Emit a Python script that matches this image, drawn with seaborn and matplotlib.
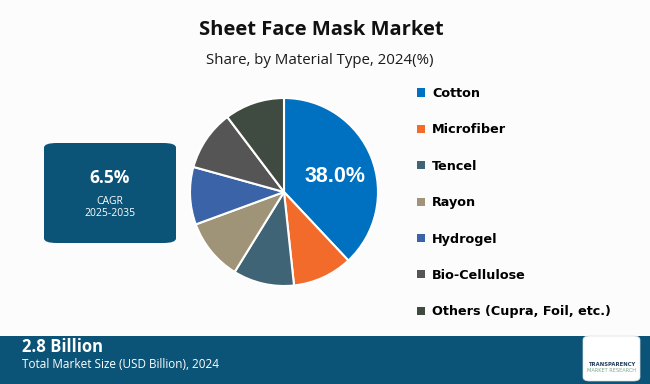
import matplotlib
matplotlib.use("Agg")
import matplotlib.pyplot as plt
import seaborn as sns
from matplotlib.patches import FancyBboxPatch, Rectangle, Patch, FancyArrowPatch, Arc
from matplotlib.font_manager import FontProperties

# data
materials = ["Cotton", "Microfiber", "Tencel", "Rayon", "Hydrogel",
             "Bio-Cellulose", "Others (Cupra, Foil, etc.)"]
shares = [38.0, 10.3, 10.5, 10.6, 9.9, 10.4, 10.3]
colors = ["#0070c0", "#f26b2b", "#3f6475", "#a09478", "#3a63a8",
          "#555555", "#3f4a40"]

cagr = "6.5%"
cagr_period = "2025-2035"
market_size = "2.8 Billion"
market_label = "Total Market Size (USD Billion), 2024"

W, H = 650, 384
BAND = "#0b5477"

sns.set_theme(style="white")
sns.set_palette(colors)
plt.rcParams["font.family"] = ["Open Sans", "DejaVu Sans"]
plt.rcParams["text.color"] = "#111111"


def fx(px):
    return px / W


def fy(py):
    return 1 - py / H


fig = plt.figure(figsize=(W / 100, H / 100), dpi=100)
fig.patch.set_facecolor("#fcfcfc")

# pie
ax = fig.add_axes([fx(190), 98 / H, 188 / W, 188 / H])
wedges, texts, autotexts = ax.pie(
    shares, colors=colors, startangle=90, counterclock=False,
    autopct=lambda p: f"{p:.1f}%" if p > 30 else "",
    pctdistance=0.58,
    wedgeprops=dict(edgecolor="white", linewidth=1.5),
)
for t in autotexts:
    x, y = t.get_position()
    t.set_position((x, y - 0.05))
    t.set_color("white")
    t.set_fontsize(15.5)
    t.set_fontweight("bold")
    t.set_family(["Liberation Sans", "DejaVu Sans"])
ax.set_xlim(-1, 1)
ax.set_ylim(-1, 1)

# legend
handles = [Patch(facecolor=c, edgecolor="none") for c in colors]
leg = ax.legend(handles, materials, loc="upper left",
                bbox_to_anchor=(fx(417), fy(87)), bbox_transform=fig.transFigure,
                frameon=False, borderpad=0, borderaxespad=0,
                handlelength=0.6, handleheight=0.6, handletextpad=0.6,
                labelspacing=1.83,
                prop=FontProperties(family="DejaVu Sans", weight="bold", size=9.2))
for t in leg.get_texts():
    t.set_color("#000000")

# titles
fig.text(fx(321), fy(30), "Sheet Face Mask Market", ha="center", va="center",
         fontsize=14.5, fontweight="bold", color="#111111")
fig.text(fx(320), fy(61), "Share, by Material Type, 2024(%)", ha="center",
         va="center", fontsize=10.8, color="#1a1a1a")

# CAGR box
fig.patches.append(FancyBboxPatch(
    (fx(44), fy(243)), fx(132), 100 / H,
    boxstyle="round,pad=0,rounding_size=0.02", transform=fig.transFigure,
    facecolor=BAND, edgecolor="none", mutation_aspect=H / W))
fig.text(fx(110), fy(178), cagr, ha="center", va="center", fontsize=12.5,
         fontweight="bold", color="white")
fig.text(fx(110), fy(201), "CAGR", ha="center", va="center", fontsize=7.5,
         color="white")
fig.text(fx(110), fy(213), cagr_period, ha="center", va="center",
         fontsize=7.5, color="white")

# bottom band
fig.patches.append(Rectangle((0, 0), 1, 48 / H, transform=fig.transFigure,
                             facecolor=BAND, edgecolor="none"))
fig.text(fx(22), fy(347), market_size, ha="left", va="center", fontsize=12,
         fontweight="bold", color="white")
fig.text(fx(22), fy(364), market_label, ha="left", va="center", fontsize=8.5,
         color="white")

# logo
fig.patches.append(FancyBboxPatch(
    (fx(583), fy(381)), fx(57), 45 / H,
    boxstyle="round,pad=0,rounding_size=0.01", transform=fig.transFigure,
    facecolor="white", edgecolor="#dddddd", linewidth=0.5))
fig.add_artist(Arc((fx(610), fy(352)), fx(36), 22 / H, theta1=150, theta2=360,
                   transform=fig.transFigure, color="#aaaaaa", linewidth=1.5))
fig.add_artist(FancyArrowPatch((fx(606), fy(360)), (fx(624), fy(339)),
                               transform=fig.transFigure, arrowstyle="-|>",
                               mutation_scale=7, color="#f07a2a", linewidth=2))
fig.text(fx(611.5), fy(365), "TRANSPARENCY", ha="center", va="center",
         fontsize=3.8, fontweight="bold", color="#1f3c5a",
         family=["DejaVu Sans"])
fig.text(fx(611.5), fy(371), "MARKET RESEARCH", ha="center", va="center",
         fontsize=3.6, color="#7fa88f", family=["DejaVu Sans"])

fig.savefig("out.png", dpi=100, facecolor=fig.get_facecolor())
